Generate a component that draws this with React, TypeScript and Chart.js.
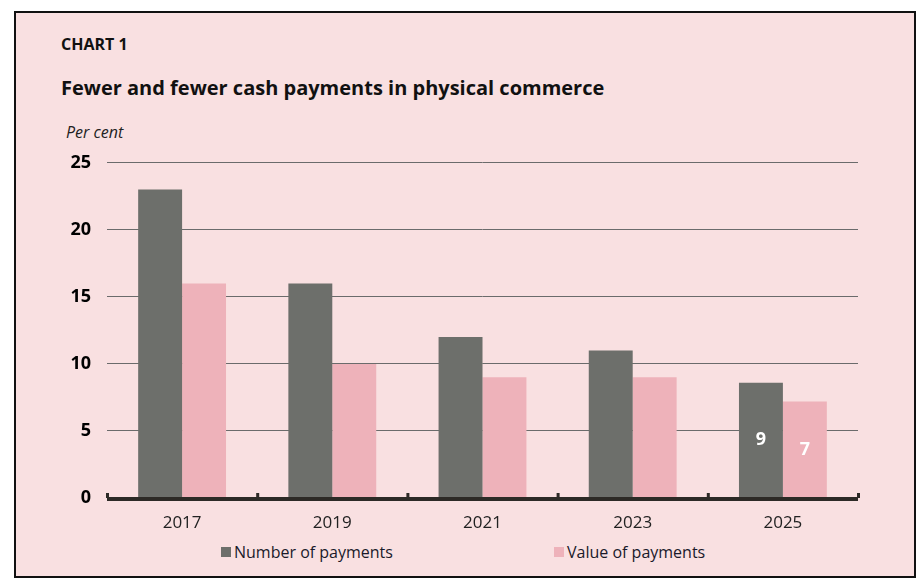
import { useEffect, useRef } from 'react'

import Chart from 'chart.js/auto'

const years = ['2017', '2019', '2021', '2023', '2025']
const numberOfPayments = [23, 16, 12, 11, 8.6]
const valueOfPayments = [16, 10, 9, 9, 7.2]
const numberLabels = ['', '', '', '', '9']
const valueLabels = ['', '', '', '', '7']
const yTicks = [0, 5, 10, 15, 20, 25]

const GREY = '#6d6f6b'
const PINK = '#eeb2ba'
const BG = '#f9e0e1'
const FONT = '"Open Sans", "Noto Sans", sans-serif'

// thick baseline with small upward ticks between the year groups
const baseline = {
  id: 'baseline',
  afterDatasetsDraw(chart: any) {
    const { ctx, chartArea, scales } = chart
    const y = scales.y.getPixelForValue(0)
    const n = years.length
    const step = (chartArea.right - chartArea.left) / n
    ctx.save()
    ctx.fillStyle = '#2d2a26'
    ctx.fillRect(chartArea.left, y - 1, chartArea.right - chartArea.left, 4)
    for (let i = 0; i <= n; i++) {
      const x = chartArea.left + i * step
      ctx.fillRect(x - 1, y - 5, 3, 5)
    }
    ctx.restore()
  },
}

// white value labels in the middle of the bars
const barLabels = {
  id: 'barLabels',
  afterDatasetsDraw(chart: any) {
    const { ctx } = chart
    const sets = [numberLabels, valueLabels]
    ctx.save()
    ctx.fillStyle = '#ffffff'
    ctx.font = `bold 18px ${FONT}`
    ctx.textAlign = 'center'
    ctx.textBaseline = 'middle'
    sets.forEach((labels, d) => {
      chart.getDatasetMeta(d).data.forEach((bar: any, i: number) => {
        if (!labels[i]) return
        ctx.fillText(labels[i], bar.x, (bar.y + bar.base) / 2)
      })
    })
    ctx.restore()
  },
}

export default function App() {
  const canvasRef = useRef<HTMLCanvasElement>(null)
  const chartRef = useRef<Chart | null>(null)

  useEffect(() => {
    if (!canvasRef.current) return

    chartRef.current = new Chart(canvasRef.current, {
      type: 'bar',
      data: {
        labels: years,
        datasets: [
          {
            label: 'Number of payments',
            data: numberOfPayments,
            backgroundColor: GREY,
            categoryPercentage: 0.585,
            barPercentage: 1,
          },
          {
            label: 'Value of payments',
            data: valueOfPayments,
            backgroundColor: PINK,
            categoryPercentage: 0.585,
            barPercentage: 1,
          },
        ],
      },
      options: {
        animation: false,
        responsive: true,
        maintainAspectRatio: false,
        layout: { padding: { top: 0, right: 10, left: 0, bottom: 0 } },
        plugins: {
          legend: { display: false },
          tooltip: { enabled: false },
        },
        scales: {
          x: {
            grid: { display: false },
            border: { display: false },
            ticks: {
              color: '#222',
              padding: 7,
              font: { family: FONT, size: 17 },
            },
            afterFit: (s: any) => {
              s.height = 37
            },
          },
          y: {
            min: 0,
            max: 25,
            afterBuildTicks: (s: any) => {
              s.ticks = yTicks.map((v) => ({ value: v }))
            },
            grid: {
              drawTicks: false,
              color: (c: any) => (c.tick && c.tick.value === 0 ? 'rgba(0,0,0,0)' : '#6b6b6b'),
              lineWidth: 1,
            },
            border: { display: false },
            ticks: {
              color: '#000',
              padding: 16,
              font: { family: FONT, size: 18, weight: 'bold' },
            },
            afterFit: (s: any) => {
              s.width = 67
            },
          },
        },
      },
      plugins: [baseline, barLabels],
    })

    return () => {
      if (chartRef.current) {
        chartRef.current.destroy()
        chartRef.current = null
      }
    }
  }, [])

  const legendItem = (left: number, color: string, text: string) => (
    <div
      style={{
        position: 'absolute',
        left,
        top: 529,
        display: 'flex',
        alignItems: 'center',
        fontSize: 16,
        lineHeight: '20px',
        color: '#1a1a2a',
      }}
    >
      <span style={{ width: 10, height: 10, background: color, marginRight: 3 }} />
      {text}
    </div>
  )

  return (
    <div
      style={{
        position: 'absolute',
        left: 14,
        top: 11,
        width: 902,
        height: 567,
        boxSizing: 'border-box',
        border: '2px solid #111',
        background: BG,
        fontFamily: FONT,
      }}
    >
      <div style={{ position: 'absolute', left: 45, top: 22, fontSize: 16, lineHeight: '18px', fontWeight: 700, color: '#111' }}>
        CHART 1
      </div>
      <div style={{ position: 'absolute', left: 45, top: 63, fontSize: 20, lineHeight: '24px', fontWeight: 700, color: '#111' }}>
        Fewer and fewer cash payments in physical commerce
      </div>
      <div style={{ position: 'absolute', left: 50, top: 109, fontSize: 16, lineHeight: '20px', fontStyle: 'italic', color: '#222' }}>
        Per cent
      </div>
      <div style={{ position: 'absolute', left: 24, top: 123, width: 828, height: 399 }}>
        <canvas ref={canvasRef} />
      </div>
      {legendItem(205, GREY, 'Number of payments')}
      {legendItem(538, PINK, 'Value of payments')}
    </div>
  )
}
